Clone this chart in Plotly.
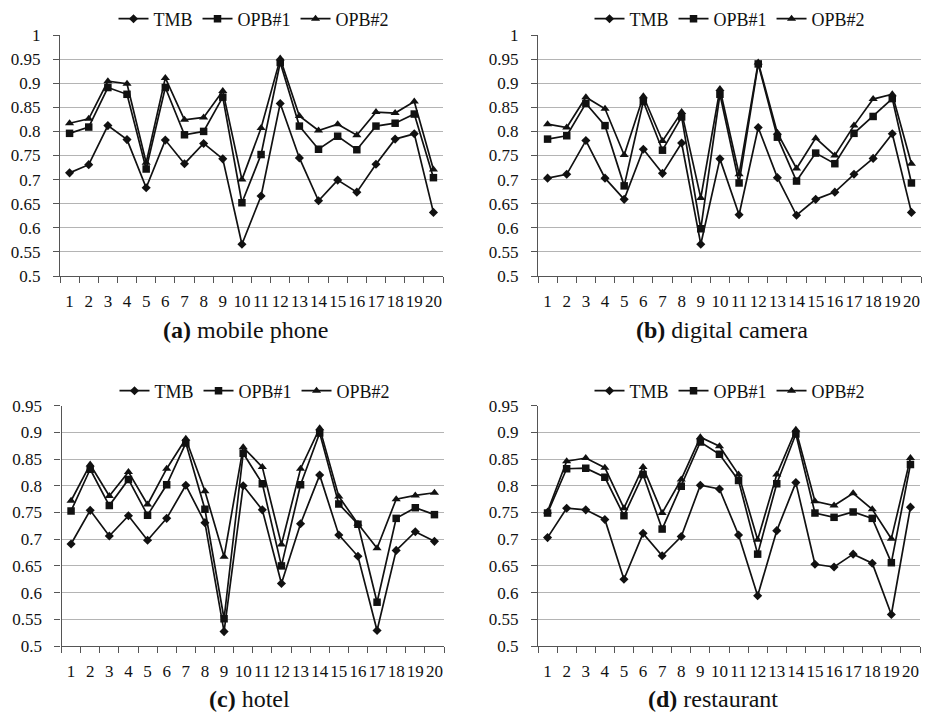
import plotly.graph_objects as go

categories = list(range(1, 21))
series_names = ["TMB", "OPB#1", "OPB#2"]

# (a) mobile phone
phone_tmb = [0.714, 0.731, 0.812, 0.783, 0.683, 0.782, 0.733, 0.775, 0.743, 0.566,
             0.666, 0.858, 0.745, 0.656, 0.699, 0.674, 0.732, 0.784, 0.795, 0.632]
phone_opb1 = [0.796, 0.809, 0.891, 0.877, 0.722, 0.891, 0.793, 0.800, 0.871, 0.652,
              0.752, 0.943, 0.811, 0.763, 0.790, 0.762, 0.811, 0.817, 0.836, 0.704]
phone_opb2 = [0.817, 0.826, 0.904, 0.899, 0.735, 0.911, 0.824, 0.829, 0.884, 0.700,
              0.807, 0.951, 0.832, 0.802, 0.815, 0.792, 0.840, 0.838, 0.862, 0.721]

# (b) digital camera
camera_tmb = [0.703, 0.711, 0.781, 0.703, 0.659, 0.763, 0.713, 0.776, 0.566, 0.743,
              0.627, 0.808, 0.704, 0.626, 0.659, 0.674, 0.711, 0.744, 0.795, 0.632]
camera_opb1 = [0.784, 0.791, 0.858, 0.812, 0.687, 0.862, 0.761, 0.830, 0.598, 0.877,
               0.693, 0.940, 0.788, 0.697, 0.755, 0.733, 0.796, 0.831, 0.868, 0.693]
camera_opb2 = [0.815, 0.808, 0.871, 0.847, 0.751, 0.873, 0.780, 0.840, 0.662, 0.888,
               0.711, 0.943, 0.797, 0.723, 0.786, 0.750, 0.812, 0.867, 0.877, 0.733]

# (c) hotel
hotel_tmb = [0.691, 0.754, 0.706, 0.744, 0.698, 0.739, 0.801, 0.731, 0.527, 0.800,
             0.755, 0.617, 0.729, 0.820, 0.708, 0.668, 0.529, 0.679, 0.714, 0.696]
hotel_opb1 = [0.753, 0.831, 0.763, 0.812, 0.745, 0.802, 0.880, 0.756, 0.551, 0.861,
              0.804, 0.650, 0.802, 0.899, 0.766, 0.728, 0.582, 0.739, 0.759, 0.746]
hotel_opb2 = [0.772, 0.840, 0.781, 0.826, 0.765, 0.832, 0.888, 0.790, 0.667, 0.872,
              0.835, 0.690, 0.832, 0.908, 0.780, 0.729, 0.683, 0.775, 0.782, 0.787]

# (d) restaurant
rest_tmb = [0.703, 0.758, 0.755, 0.737, 0.625, 0.711, 0.669, 0.705, 0.801, 0.794,
            0.708, 0.594, 0.716, 0.806, 0.653, 0.648, 0.672, 0.655, 0.559, 0.760]
rest_opb1 = [0.749, 0.832, 0.833, 0.816, 0.744, 0.821, 0.719, 0.799, 0.882, 0.859,
             0.810, 0.672, 0.804, 0.897, 0.749, 0.741, 0.751, 0.739, 0.656, 0.840]
rest_opb2 = [0.752, 0.846, 0.852, 0.834, 0.758, 0.835, 0.749, 0.812, 0.891, 0.874,
             0.821, 0.699, 0.821, 0.905, 0.771, 0.763, 0.786, 0.756, 0.701, 0.852]

ytick_vals_top = [0.5, 0.55, 0.6, 0.65, 0.7, 0.75, 0.8, 0.85, 0.9, 0.95, 1.0]
ytick_text_top = ["0.5", "0.55", "0.6", "0.65", "0.7", "0.75", "0.8", "0.85", "0.9", "0.95", "1"]
ytick_vals_bot = ytick_vals_top[:-1]
ytick_text_bot = ytick_text_top[:-1]

panel_letters = ["(a)", "(b)", "(c)", "(d)"]
panel_names = ["mobile phone", "digital camera", "hotel", "restaurant"]
panel_data = [
    (phone_tmb, phone_opb1, phone_opb2),
    (camera_tmb, camera_opb1, camera_opb2),
    (hotel_tmb, hotel_opb1, hotel_opb2),
    (rest_tmb, rest_opb1, rest_opb2),
]

# page is 931x713; the HTML body keeps an 8px margin, so the figure is
# sized to the remaining area and page pixels are converted with OFF.
OFF = 8
W, H = 931 - OFF, 713 - OFF
FONT = "Liberation Serif"
INK = "#111111"
AXIS = "#555555"
GRID = "#b4b4b4"


def px(p):
    return (p - OFF) / W


def py(p):
    return 1 - (p - OFF) / H


# page-pixel geometry of each plot area: (left, right, top, bottom)
boxes = [(60, 443, 35, 276), (538, 921, 35, 276),
         (61.5, 444, 405.7, 646), (538, 920, 405.7, 646)]
yranges = [(0.5, 1.0), (0.5, 1.0), (0.5, 0.95), (0.5, 0.95)]
legend_pos = [(254, 19), (730, 19), (255, 391), (730, 391)]
caption_pos = [(245, 330), (722, 330), (249, 699), (713, 699)]

symbols = ["diamond", "square", "triangle-up"]
sizes = [7, 7.5, 8]

fig = go.Figure()
layout = dict(width=W, height=H,
              margin=dict(l=0, r=0, t=0, b=0, autoexpand=False),
              paper_bgcolor="white", plot_bgcolor="white",
              font=dict(family=FONT, size=18, color=INK), showlegend=True)
annotations = []
boundaries = [c - 0.5 for c in categories] + [categories[-1] + 0.5]

for i in range(4):
    n = i + 1
    xa = "x" if n == 1 else f"x{n}"
    ya = "y" if n == 1 else f"y{n}"
    lg = "legend" if n == 1 else f"legend{n}"
    for s in range(3):
        fig.add_trace(go.Scatter(
            x=categories, y=panel_data[i][s], name=series_names[s],
            mode="lines+markers", xaxis=xa, yaxis=ya, legend=lg,
            line=dict(color=INK, width=1.7),
            marker=dict(symbol=symbols[s], size=sizes[s], color=INK),
        ))
    l, r, t, b = boxes[i]
    xkey = "xaxis" if n == 1 else f"xaxis{n}"
    ykey = "yaxis" if n == 1 else f"yaxis{n}"
    layout[xkey] = dict(
        domain=[px(l), px(r)], range=[0.5, 20.5], anchor=ya,
        tickmode="array", tickvals=categories, ticktext=[str(c) for c in categories],
        tickangle=0, automargin=False,
        ticks="outside", ticklen=9, tickcolor="rgba(0,0,0,0)",
        showline=True, linecolor=AXIS, linewidth=1.2, showgrid=False, zeroline=False,
        tickfont=dict(family=FONT, size=17, color=INK),
        minor=dict(tickmode="array", tickvals=boundaries, ticks="outside",
                   ticklen=6, tickcolor=AXIS, tickwidth=1.2, showgrid=False),
        fixedrange=True,
    )
    yv = ytick_vals_top if i < 2 else ytick_vals_bot
    yt = ytick_text_top if i < 2 else ytick_text_bot
    layout[ykey] = dict(
        domain=[py(b), py(t)], range=list(yranges[i]), anchor=xa,
        tickmode="array", tickvals=yv, ticktext=yt, automargin=False,
        ticks="outside", ticklen=6, tickcolor=AXIS, tickwidth=1.2,
        ticklabelstandoff=9,
        showline=True, linecolor=AXIS, linewidth=1.2,
        showgrid=True, gridcolor=GRID, gridwidth=1.2, zeroline=False,
        tickfont=dict(family=FONT, size=17, color=INK),
        fixedrange=True,
    )
    lx, ly = legend_pos[i]
    layout[lg] = dict(orientation="h", x=px(lx), y=py(ly),
                      xanchor="center", yanchor="middle",
                      font=dict(family=FONT, size=18, color=INK),
                      bgcolor="rgba(0,0,0,0)", itemwidth=30)
    cx, cy = caption_pos[i]
    annotations.append(dict(
        x=px(cx), y=py(cy), xref="paper", yref="paper",
        xanchor="center", yanchor="middle", showarrow=False,
        text=f"<b>{panel_letters[i]}</b> {panel_names[i]}",
        font=dict(family=FONT, size=24, color=INK),
    ))

layout["annotations"] = annotations
fig.update_layout(**layout)
fig.write_html("out.html")
